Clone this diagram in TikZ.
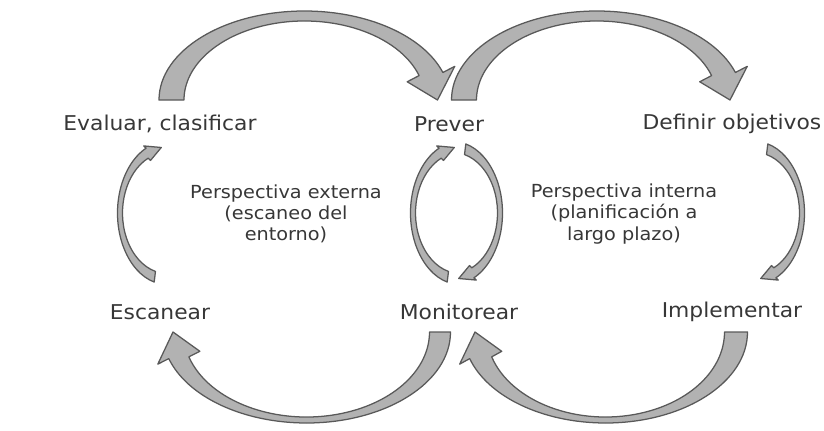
\documentclass[tikz,border=0pt]{standalone}
\usepackage{fontspec}
\setmainfont{DejaVu Sans}[FakeStretch=1.07]
\usetikzlibrary{calc}
\definecolor{txtgray}{RGB}{55,55,55}
\tikzstyle{phase}=[text=txtgray, font=\fontsize{14.5}{17}\selectfont, inner sep=1pt]
\tikzstyle{persp}=[text=txtgray, font=\fontsize{12.8}{15}\selectfont, align=center, inner sep=1pt]
\tikzstyle{arrowbody}=[fill=black!30, draw=black!65, line width=0.9pt, line join=round]
% curved block arrow: centre, x radius, y radius, half width side, half width apex,
% start angle, end angle, tip angle, half width of head
\newcommand{\curvarrow}[9]{%
\pgfmathsetmacro\rxo{#2+#4}\pgfmathsetmacro\ryo{#3+#5}%
\pgfmathsetmacro\rxi{#2-#4}\pgfmathsetmacro\ryi{#3-#5}%
\pgfmathsetmacro\rxw{#2+#9}\pgfmathsetmacro\ryw{#3+#9}%
\pgfmathsetmacro\rxv{#2-#9}\pgfmathsetmacro\ryv{#3-#9}%
\filldraw[arrowbody] ($(#1)+(#6:{\rxo} and {\ryo})$)
  arc[start angle=#6, end angle=#7, x radius=\rxo, y radius=\ryo]
  -- ($(#1)+(#7:{\rxw} and {\ryw})$)
  -- ($(#1)+(#8:{#2} and {#3})$)
  -- ($(#1)+(#7:{\rxv} and {\ryv})$)
  -- ($(#1)+(#7:{\rxi} and {\ryi})$)
  arc[start angle=#7, end angle=#6, x radius=\rxi, y radius=\ryi]
  -- cycle;}

\begin{document}
\begin{tikzpicture}[x=0.025cm,y=0.025cm]
\useasboundingbox (0,0) rectangle (824,430);
\node[phase] (evaluar) at (160,306) {Evaluar, clasificar};
\node[phase] (prever) at (449,306) {Prever};
\node[phase] (definir) at (732,306) {Definir objetivos};
\node[phase] (escanear) at (160,118) {Escanear};
\node[phase] (monitorear) at (459,118) {Monitorear};
\node[phase] (implementar) at (732,118) {Implementar};
\node[persp] (externa) at (286,216) {Perspectiva externa\\(escaneo del\\entorno)};
\node[persp] (interna) at (624,216) {Perspectiva interna\\(planificación a\\largo plazo)};
% centres of the arcs
\coordinate (ep) at ($(evaluar)!.5!(prever)+(0,24)$);
\coordinate (pd) at ($(prever)!.5!(definir)+(6.5,24)$);
\coordinate (me) at ($(escanear)!.5!(monitorear)+(-3,-20)$);
\coordinate (im) at ($(monitorear)!.5!(implementar)+(10,-20)$);
\coordinate (ee) at ($(escanear)!.5!(evaluar)+(7,5)$);
\coordinate (pm) at ($(prever)!.5!(monitorear)+(-1,5)$);
\coordinate (mp) at ($(prever)!.5!(monitorear)+(6,5)$);
\coordinate (di) at ($(definir)!.5!(implementar)+(23,5)$);
% big arcs
\curvarrow{ep}{133}{84}{12.5}{5}{180}{18}{0}{25}
\curvarrow{pd}{133}{84}{12.5}{5}{180}{18}{0}{25}
\curvarrow{me}{133.5}{88}{10.5}{3}{0}{-163}{-180}{22}
\curvarrow{im}{130.5}{88}{11.5}{3}{0}{-163}{-180}{22}
% small arcs
\curvarrow{ee}{47}{66}{2.5}{5.5}{255}{115}{97}{8}
\curvarrow{pm}{47}{66}{2.5}{5.5}{75}{-65}{-83}{8}
\curvarrow{mp}{47}{66}{2.5}{5.5}{255}{115}{97}{8}
\curvarrow{di}{47}{66}{2.5}{5.5}{75}{-65}{-83}{8}
\end{tikzpicture}
\end{document}
